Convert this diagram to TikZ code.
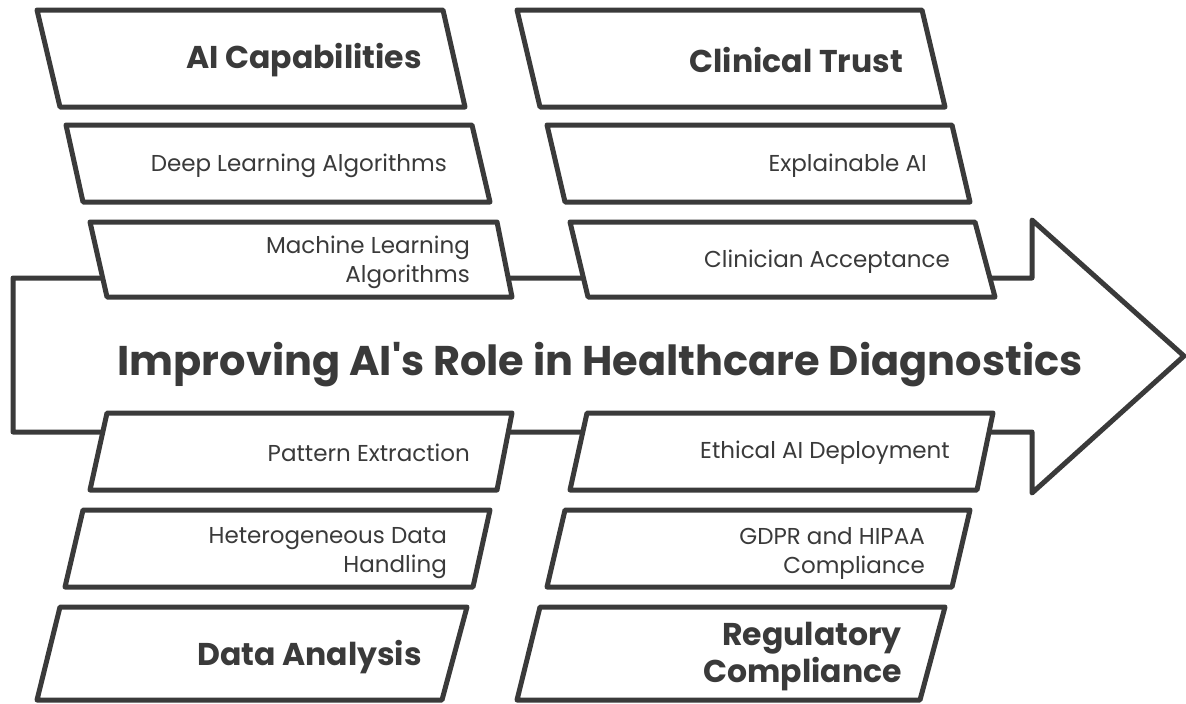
\documentclass[tikz,border=0pt]{standalone}
\usepackage{fontspec}
\setmainfont{Poppins}
\definecolor{ink}{HTML}{3A3A3A}
\tikzset{
  slab/.style={draw=ink, fill=white, line width=5pt, line join=round},
  item/.style={anchor=east, align=right, inner sep=0pt, text=ink,
    font=\fontsize{23}{29}\selectfont},
  head/.style={anchor=east, align=right, inner sep=0pt, text=ink,
    font=\fontsize{31.5}{37}\selectfont\bfseries},
}

\begin{document}
\begin{tikzpicture}[x=1pt,y=-1pt]
  \useasboundingbox (0,0) rectangle (1186,704);
  % main arrow
  \draw[slab] (13,278) -- (1032,278) -- (1032,220) -- (1184,356)
    -- (1032,493) -- (1032,432) -- (13,432) -- cycle;
  \node[anchor=base, inner sep=0pt, text=ink, font=\fontsize{41.5}{50}\selectfont\bfseries]
    (goal) at (600,375) {Improving AI\textquotesingle s Role in Healthcare Diagnostics};
  % upper left branch
  \draw[slab] (37,10) -- (443,10) -- (465,107) -- (60,107) -- cycle;
  \node[head] (capab) at (422,60) {AI Capabilities};
  \draw[slab] (66,125) -- (472,125) -- (490,202) -- (83,202) -- cycle;
  \node[item] (deep) at (447,166) {Deep Learning Algorithms};
  \draw[slab] (90,222) -- (497,222) -- (512,297) -- (107,297) -- cycle;
  \node[item] (machine) at (470,262) {Machine Learning\\Algorithms};
  % upper right branch
  \draw[slab] (517,10) -- (922,10) -- (945,107) -- (540,107) -- cycle;
  \node[head] (trust) at (903,60) {Clinical Trust};
  \draw[slab] (547,125) -- (952,125) -- (970,202) -- (565,202) -- cycle;
  \node[item] (explain) at (927,166) {Explainable AI};
  \draw[slab] (570,222) -- (975,222) -- (995,297) -- (588,297) -- cycle;
  \node[item] (accept) at (950,262) {Clinician Acceptance};
  % lower left branch
  \draw[slab] (107,413) -- (512,413) -- (497,490) -- (90,490) -- cycle;
  \node[item] (pattern) at (470,453) {Pattern Extraction};
  \draw[slab] (83,510) -- (490,510) -- (473,587) -- (65,587) -- cycle;
  \node[item] (hetero) at (447,553) {Heterogeneous Data\\Handling};
  \draw[slab] (60,607) -- (467,607) -- (442,700) -- (37,700) -- cycle;
  \node[head] (analysis) at (422,657) {Data Analysis};
  % lower right branch
  \draw[slab] (587,413) -- (993,413) -- (977,490) -- (570,490) -- cycle;
  \node[item] (ethical) at (950,453) {Ethical AI Deployment};
  \draw[slab] (565,510) -- (970,510) -- (952,587) -- (547,587) -- cycle;
  \node[item] (gdpr) at (925,553) {GDPR and HIPAA\\Compliance};
  \draw[slab] (540,607) -- (945,607) -- (920,700) -- (517,700) -- cycle;
  \node[head] (regul) at (902,657) {Regulatory\\Compliance};
\end{tikzpicture}
\end{document}
